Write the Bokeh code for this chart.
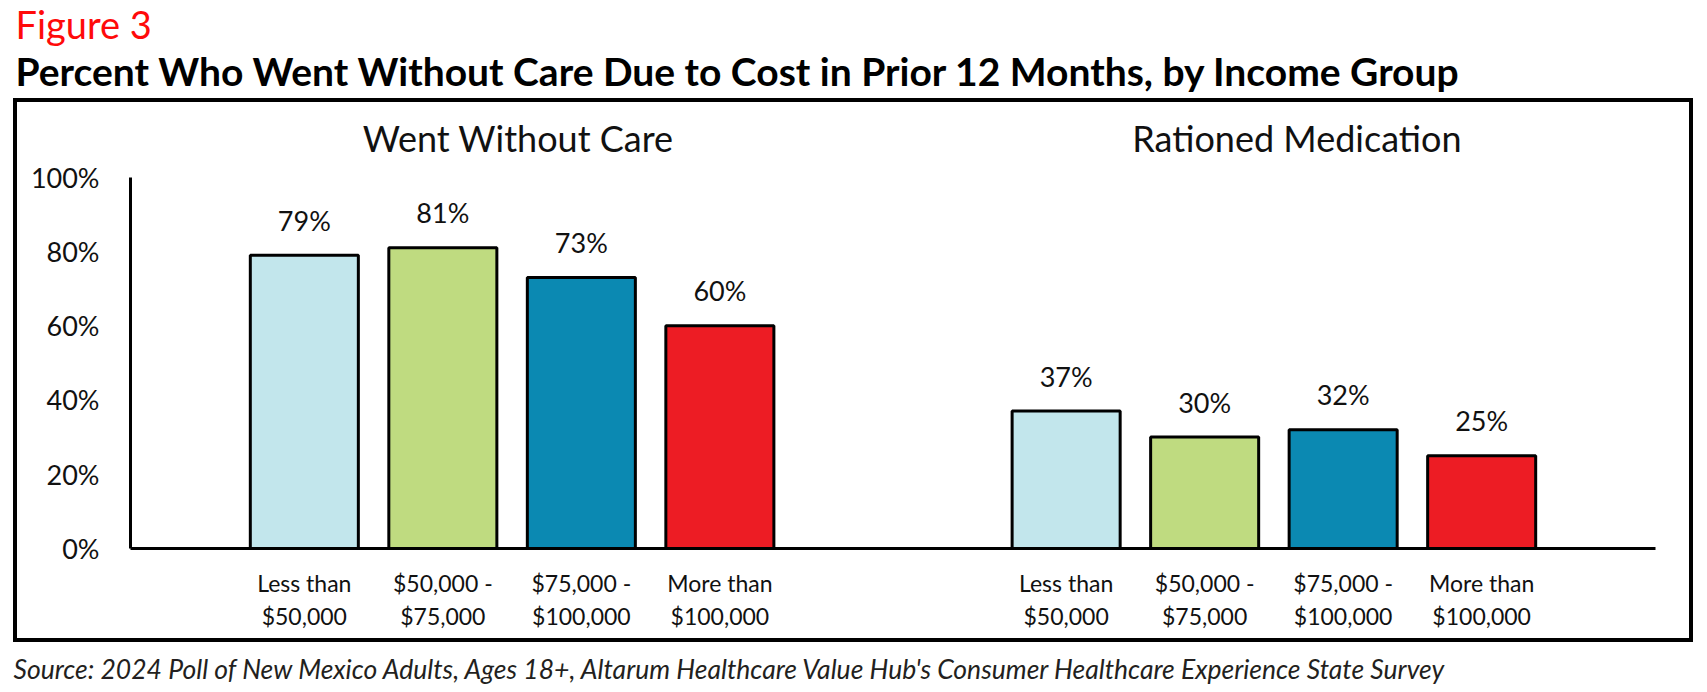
from bokeh.plotting import figure
from bokeh.layouts import column
from bokeh.models import (ColumnDataSource, FixedTicker, PrintfTickFormatter, Range1d)
from bokeh.core.properties import value
from bokeh.embed import file_html
from bokeh.resources import INLINE

# ---------------- data ----------------
panels = ["Went Without Care", "Rationed Medication"]
income_groups = ["Less than\n$50,000", "$50,000 -\n$75,000",
                 "$75,000 -\n$100,000", "More than\n$100,000"]
went_without_care = [79, 81, 73, 60]
rationed_medication = [37, 30, 32, 25]
bar_colors = ["#C2E6EC", "#BFDB80", "#0B89B2", "#ED1C24"]
y_ticks = [0, 20, 40, 60, 80, 100]

figure_label = "Figure 3"
chart_title = "Percent Who Went Without Care Due to Cost in Prior 12 Months, by Income Group"
source_note = ("Source: 2024 Poll of New Mexico Adults, Ages 18+, Altarum Healthcare Value Hub's "
               "Consumer Healthcare Experience State Survey")

FONT = "Lato"
PAGE_W = 1707
BASE_FIX = 0.4   # em: lift applied to alphabetic baselines


def bare(width, height):
    """A figure whose frame fills the whole canvas, y growing downward (pixels)."""
    f = figure(width=width, height=height, output_backend="svg", toolbar_location=None,
               x_range=Range1d(0, width), y_range=Range1d(height, 0),
               x_axis_type=None, y_axis_type=None, frame_align=False,
               min_border=0, min_border_left=0, min_border_right=0,
               min_border_top=0, min_border_bottom=0)
    f.outline_line_color = None
    f.xgrid.grid_line_color = None
    f.ygrid.grid_line_color = None
    f.background_fill_color = None
    f.border_fill_color = None
    return f


# ---------------- heading ----------------
HEAD_H = 98
head = bare(PAGE_W, HEAD_H)
head.text(x=[15], y=[38.5 - BASE_FIX * 38], text=[figure_label], text_font=value(FONT),
          text_font_size="38px", text_color="#FF0A0A", text_baseline="alphabetic")
head.text(x=[15], y=[86 - BASE_FIX * 39], text=[chart_title], text_font=value(FONT),
          text_font_size="39px", text_font_style="bold", text_color="#000000",
          text_baseline="alphabetic")

# ---------------- chart body ----------------
BODY_W, BODY_H = 1680, 544
FRAME_L, FRAME_R, FRAME_B = 117, 1642, 450
PX_PER_PCT = 3.713
group_gap = 1.5
n = len(income_groups)

centers = [g * (n + group_gap) + i for g in range(len(panels)) for i in range(n)]
tick_keys = [int(c) if float(c).is_integer() else c for c in centers]
vals = went_without_care + rationed_medication
src = ColumnDataSource(dict(x=centers, top=vals, color=bar_colors * len(panels),
                            label=[f"{v}%" for v in vals]))

pad = 1.255
body = figure(width=BODY_W, height=BODY_H, output_backend="svg", toolbar_location=None,
              x_range=Range1d(centers[0] - pad, centers[-1] + pad),
              y_range=Range1d(0, FRAME_B / PX_PER_PCT),
              min_border_left=FRAME_L, min_border_right=BODY_W - FRAME_R,
              min_border_top=0, min_border_bottom=BODY_H - FRAME_B,
              frame_align=False, margin=(0, 0, 0, 13),
              styles={"box-shadow": "inset 0 0 0 4px #000000"})
body.outline_line_color = None
body.xgrid.grid_line_color = None
body.ygrid.grid_line_color = None
body.background_fill_color = None
body.border_fill_color = None

body.vbar(x="x", top="top", bottom=0, width=0.78, source=src,
          fill_color="color", line_color="black", line_width=3)
body.text(x="x", y="top", text="label", source=src, text_align="center",
          text_baseline="alphabetic", y_offset=-24 - BASE_FIX * 27,
          text_font=value(FONT), text_font_size="27px", text_color="#111111")

# panel titles
panel_x = [sum(centers[g * n:(g + 1) * n]) / n for g in range(len(panels))]
body.text(x=panel_x, y=[max(y_ticks)] * len(panels), text=panels,
          x_offset=[6, 23], y_offset=-25 - BASE_FIX * 36, text_align="center",
          text_baseline="alphabetic", text_font=value(FONT),
          text_font_size="36px", text_color="#111111")

# x axis
xa = body.xaxis[0]
xa.ticker = FixedTicker(ticks=centers)
xa.major_label_overrides = dict(zip(tick_keys, income_groups * len(panels)))
xa.axis_line_width = 3
xa.axis_line_color = "black"
xa.major_tick_line_color = None
xa.minor_tick_line_color = None
xa.major_tick_out = 0
xa.major_tick_in = 0
xa.major_label_text_font = FONT
xa.major_label_text_font_size = "23px"
xa.major_label_text_color = "#111111"
xa.major_label_standoff = 20

# y axis
ya = body.yaxis[0]
ya.ticker = FixedTicker(ticks=y_ticks)
ya.bounds = (min(y_ticks), max(y_ticks))
ya.formatter = PrintfTickFormatter(format="%d%%")
ya.axis_line_width = 3
ya.axis_line_color = "black"
ya.major_tick_line_color = None
ya.minor_tick_line_color = None
ya.major_tick_out = 0
ya.major_tick_in = 0
ya.major_label_text_font = FONT
ya.major_label_text_font_size = "27px"
ya.major_label_text_color = "#111111"
ya.major_label_standoff = 31

# ---------------- source note ----------------
FOOT_H = 692 - HEAD_H - BODY_H
foot = bare(PAGE_W, FOOT_H)
foot.text(x=[13], y=[37.5 - BASE_FIX * 26.5], text=[source_note], text_font=value(FONT),
          text_font_size="26.5px", text_font_style="italic", text_color="#231F20",
          text_baseline="alphabetic")

layout = column(head, body, foot, spacing=0)
open("out.html", "w").write(file_html(layout, INLINE))
